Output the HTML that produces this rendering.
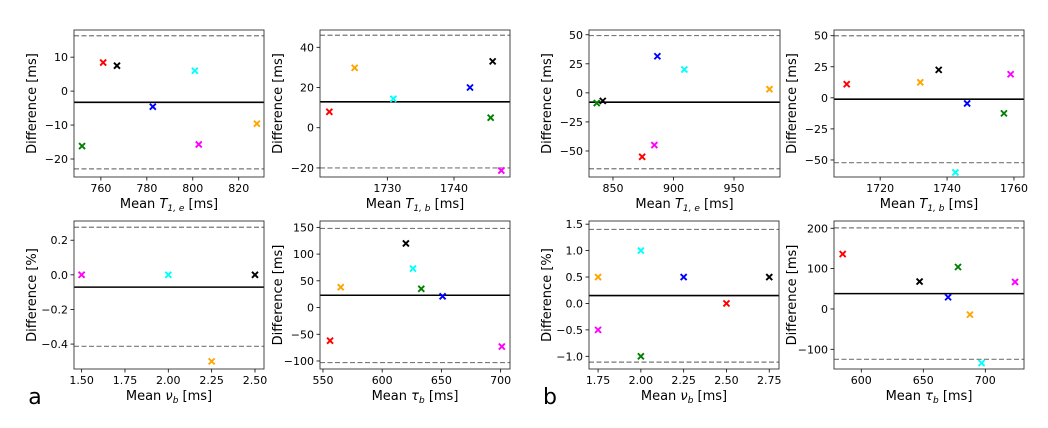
<!DOCTYPE html>
<html><head><meta charset="utf-8">
<style>
html,body{margin:0;padding:0;background:#fff;}
svg{display:block;font-family:"DejaVu Sans","Liberation Sans",sans-serif;}
</style></head>
<body>
<svg id="fig" width="1048" height="428" viewBox="0 0 1048 428" xmlns="http://www.w3.org/2000/svg">
<text x="35" y="404" font-size="22" fill="#000" text-anchor="middle">a</text>
<text x="550" y="404" font-size="22" fill="#000" text-anchor="middle">b</text>
</svg>
<script>
// shared color order of the subjects
const colors = ["red","orange","black","cyan","blue","green","magenta"];

// Panel 1: T1,e (a)
const p1x = [761, 827.9, 767, 800.9, 782.6, 751.8, 802.6];
const p1y = [8.4, -9.6, 7.5, 6, -4.6, -16.2, -15.7];
const p1mean = [-3.3];
const p1loa = [16.3, -22.9];
const p1xticks = [760, 780, 800, 820];
const p1yticks = [-20, -10, 0, 10];

// Panel 2: T1,b (a)
const p2x = [1721.3, 1725.1, 1745.8, 1730.9, 1742.4, 1745.5, 1747.1];
const p2y = [7.9, 29.8, 33, 14.4, 20, 5, -21.3];
const p2mean = [12.9];
const p2loa = [46, -20];
const p2xticks = [1730, 1740];
const p2yticks = [-20, 0, 20, 40];

// Panel 3: T1,e (b)
const p3x = [874.1, 979.3, 841.6, 909, 886.7, 836.6, 884.2];
const p3y = [-55, 3.2, -6.9, 20.1, 31.5, -8.8, -44.9];
const p3mean = [-8];
const p3loa = [49.3, -65.3];
const p3xticks = [850, 900, 950];
const p3yticks = [-50, -25, 0, 25, 50];

// Panel 4: T1,b (b)
const p4x = [1710, 1732, 1737.5, 1742.5, 1746, 1757, 1759];
const p4y = [11, 12.5, 22.5, -60, -4.5, -12.5, 19];
const p4mean = [-1.1];
const p4loa = [50, -52.2];
const p4xticks = [1720, 1740, 1760];
const p4yticks = [-50, -25, 0, 25, 50];

// Panel 5: nu_b (a)  (red/blue/green absent)
const p5x = [null, 2.25, 2.5, 2.0, null, null, 1.5];
const p5y = [null, -0.5, 0, 0, null, null, 0];
const p5mean = [-0.071];
const p5loa = [0.275, -0.413];
const p5xticks = [1.5, 1.75, 2.0, 2.25, 2.5];
const p5yticks = [-0.4, -0.2, 0.0, 0.2];

// Panel 6: tau_b (a)
const p6x = [556, 565, 620, 626, 651, 633, 701];
const p6y = [-62, 38, 120, 73, 21, 35, -73];
const p6mean = [23];
const p6loa = [148, -103];
const p6xticks = [550, 600, 650, 700];
const p6yticks = [-100, -50, 0, 50, 100, 150];

// Panel 7: nu_b (b)
const p7x = [2.5, 1.75, 2.75, 2.0, 2.25, 2.0, 1.75];
const p7y = [0, 0.5, 0.5, 1.0, 0.5, -1.0, -0.5];
const p7mean = [0.15];
const p7loa = [1.4, -1.11];
const p7xticks = [1.75, 2.0, 2.25, 2.5, 2.75];
const p7yticks = [-1.0, -0.5, 0.0, 0.5, 1.0, 1.5];

// Panel 8: tau_b (b)
const p8x = [585, 687.6, 647, 697, 670, 678, 724];
const p8y = [136, -14, 68, -134, 29, 104, 67];
const p8mean = [38];
const p8loa = [201, -124.8];
const p8xticks = [600, 650, 700];
const p8yticks = [-100, 0, 100, 200];

const NS = "http://www.w3.org/2000/svg";
const svg = document.getElementById("fig");
function mk(tag, attrs, parent){
  const e = document.createElementNS(NS, tag);
  for (const k in attrs) e.setAttribute(k, attrs[k]);
  (parent||svg).appendChild(e);
  return e;
}
function fmt(v, dec){ const s = v.toFixed(dec); return s.replace("-", "\u2212"); }

function panel(id, box, xlim, ylim, xs, ys, mean, loa, xt, yt, xdec, ydec, xlabelParts, ylabel){
  const [L,T,R,B] = box;
  const sx = v => L + (v - xlim[0]) / (xlim[1] - xlim[0]) * (R - L);
  const sy = v => B - (v - ylim[0]) / (ylim[1] - ylim[0]) * (B - T);
  const g = mk("g", {});
  
  
  loa.forEach((v, i) => {
    const ln = mk("line", {x1:L, x2:R, y1:sy(v), y2:sy(v), stroke:"#777", "stroke-width":1.2, "stroke-dasharray":"5,2.5"}, g);
    
    
  });
  mean.forEach(v => {
    const ln = mk("line", {x1:L, x2:R, y1:sy(v), y2:sy(v), stroke:"#000", "stroke-width":1.6}, g);
    
    
  });
  xs.forEach((xv, i) => {
    if (xv === null) return;
    const cx = sx(xv), cy = sy(ys[i]), d = 3;
    const m = mk("path", {d:`M${cx-d},${cy-d}L${cx+d},${cy+d}M${cx-d},${cy+d}L${cx+d},${cy-d}`, stroke:colors[i], "stroke-width":1.9, fill:"none"}, g);
    
    
  });
  const fr = mk("rect", {x:L, y:T, width:R-L, height:B-T, fill:"none", stroke:"#333", "stroke-width":0.9}, g);
  
  
  xt.forEach(v => {
    const x = sx(v);
    mk("line", {x1:x, x2:x, y1:B, y2:B+3.5, stroke:"#000", "stroke-width":0.8}, g);
    const t = mk("text", {x:x, y:B+15, "font-size":11, "text-anchor":"middle", fill:"#000"}, g);
    t.textContent = fmt(v, xdec);
    
    
  });
  yt.forEach(v => {
    const y = sy(v);
    mk("line", {x1:L-3.5, x2:L, y1:y, y2:y, stroke:"#000", "stroke-width":0.8}, g);
    const t = mk("text", {x:L-6, y:y+4, "font-size":11, "text-anchor":"end", fill:"#000"}, g);
    t.textContent = fmt(v, ydec);
    
    
  });
  const xl = mk("text", {x:(L+R)/2, y:B+31, "font-size":13, "text-anchor":"middle", fill:"#000"}, g);
  
  
  const a = mk("tspan", {}, xl); a.textContent = "Mean ";
  const b = mk("tspan", {"font-style":"italic"}, xl); b.textContent = xlabelParts[0];
  const c = mk("tspan", {"font-size":9, "font-style":"italic", dy:3}, xl); c.textContent = xlabelParts[1];
  const d = mk("tspan", {dy:-3}, xl); d.textContent = " [ms]";
  const yx = L - 38, yy = (T+B)/2;
  const yl = mk("text", {x:yx, y:yy, "font-size":13, "text-anchor":"middle", fill:"#000", transform:`rotate(-90 ${yx} ${yy})`}, g);
  yl.textContent = ylabel;
  
  
}

panel("panel-t1e-a", [74,30,264,177], [748.3,831], [-25.3,18], p1x, p1y, p1mean, p1loa, p1xticks, p1yticks, 0, 0, ["T","1, e"], "Difference [ms]");
panel("panel-t1b-a", [320,30,510,177], [1719.9,1748.4], [-24.5,48.6], p2x, p2y, p2mean, p2loa, p2xticks, p2yticks, 0, 0, ["T","1, b"], "Difference [ms]");
panel("panel-t1e-b", [589,30,780,177], [830.2,988], [-72.4,54.1], p3x, p3y, p3mean, p3loa, p3xticks, p3yticks, 0, 0, ["T","1, e"], "Difference [ms]");
panel("panel-t1b-b", [834,30,1024,177], [1706.2,1763], [-63.7,54.6], p4x, p4y, p4mean, p4loa, p4xticks, p4yticks, 0, 0, ["T","1, b"], "Difference [ms]");
panel("panel-nub-a", [74,221,264,369], [1.456,2.552], [-0.544,0.311], p5x, p5y, p5mean, p5loa, p5xticks, p5yticks, 2, 1, ["\u03bd","b"], "Difference [%]");
panel("panel-taub-a", [320,221,510,369], [547.5,707.9], [-115,161.9], p6x, p6y, p6mean, p6loa, p6xticks, p6yticks, 0, 0, ["\u03c4","b"], "Difference [ms]");
panel("panel-nub-b", [589,221,779,369], [1.697,2.807], [-1.24,1.56], p7x, p7y, p7mean, p7loa, p7xticks, p7yticks, 2, 1, ["\u03bd","b"], "Difference [%]");
panel("panel-taub-b", [834,221,1024,369], [578,731.2], [-148.8,218], p8x, p8y, p8mean, p8loa, p8xticks, p8yticks, 0, 0, ["\u03c4","b"], "Difference [ms]");
</script>
</body></html>
